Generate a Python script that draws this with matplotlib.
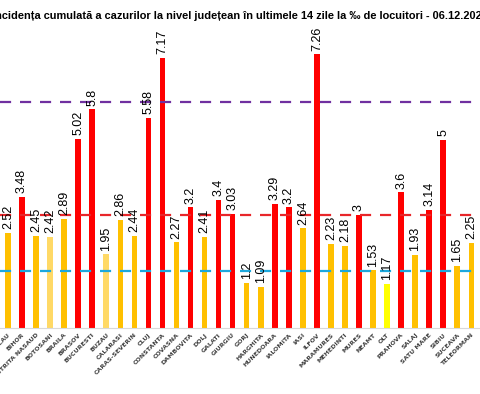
import matplotlib.pyplot as plt

judete = ["BACAU", "BIHOR", "BISTRITA NASAUD", "BOTOSANI", "BRAILA", "BRASOV",
          "BUCURESTI", "BUZAU", "CALARASI", "CARAS-SEVERIN", "CLUJ", "CONSTANTA",
          "COVASNA", "DAMBOVITA", "DOLJ", "GALATI", "GIURGIU", "GORJ", "HARGHITA",
          "HUNEDOARA", "IALOMITA", "IASI", "ILFOV", "MARAMURES", "MEHEDINTI",
          "MURES", "NEAMT", "OLT", "PRAHOVA", "SALAJ", "SATU MARE", "SIBIU",
          "SUCEAVA", "TELEORMAN"]
incidenta = [2.52, 3.48, 2.45, 2.42, 2.89, 5.02, 5.8, 1.95, 2.86, 2.44, 5.58, 7.17,
             2.27, 3.2, 2.41, 3.4, 3.03, 1.2, 1.09, 3.29, 3.2, 2.64, 7.26, 2.23,
             2.18, 3, 1.53, 1.17, 3.6, 1.93, 3.14, 5, 1.65, 2.25]
culori = ["#FFC000", "#FF0000", "#FFC000", "#FFD966", "#FFC000", "#FF0000",
          "#FF0000", "#FFD966", "#FFC000", "#FFC000", "#FF0000", "#FF0000",
          "#FFC000", "#FF0000", "#FFC000", "#FF0000", "#FF0000", "#FFC000",
          "#FFC000", "#FF0000", "#FF0000", "#FFC000", "#FF0000", "#FFC000",
          "#FFC000", "#FF0000", "#FFC000", "#FFFF00", "#FF0000", "#FFC000",
          "#FF0000", "#FF0000", "#FFC000", "#FFC000"]
praguri = [1.5, 3, 6]
culori_prag = ["#1CA8DD", "#E8262A", "#7030A0"]

fig = plt.figure(figsize=(4.8, 3.94), dpi=100)
ax = fig.add_axes([0, 66 / 394, 1, 328 / 394])

x = range(len(judete))
ax.bar(x, incidenta, width=0.4, color=culori, zorder=2)
for i, v in enumerate(incidenta):
    ax.text(i, v + 0.1, f"{v:g}", rotation=90, ha="center", va="bottom",
            fontsize=9, family=["Liberation Sans Narrow", "Liberation Sans"], zorder=4)

for p, c in zip(praguri, culori_prag):
    ax.axhline(p, color=c, linestyle=(0, (5, 4)), linewidth=1.6, zorder=3)

ax.set_xlim(-8 / 14.04, (480 - 8) / 14.04)
ax.set_ylim(0, 328 / 37.7)
ax.set_xticks(list(x))
ax.set_xticklabels(judete, rotation=45, ha="right", rotation_mode="anchor",
                   fontsize=4.5, fontweight="bold", color="#404040")
ax.tick_params(axis="x", length=0, pad=3)
ax.set_yticks([])
for s in ["top", "left", "right"]:
    ax.spines[s].set_visible(False)
ax.spines["bottom"].set_color("#D9D9D9")

fig.text(0.5, 1 - 16 / 394,
         "Incidența cumulată a cazurilor la nivel județean în ultimele 14 zile la ‰ de locuitori - 06.12.2020",
         ha="center", va="center", fontsize=7.9, fontweight="bold",
         family=["Liberation Sans Narrow", "Liberation Sans", "DejaVu Sans"])

fig.savefig("out.png", dpi=100)
